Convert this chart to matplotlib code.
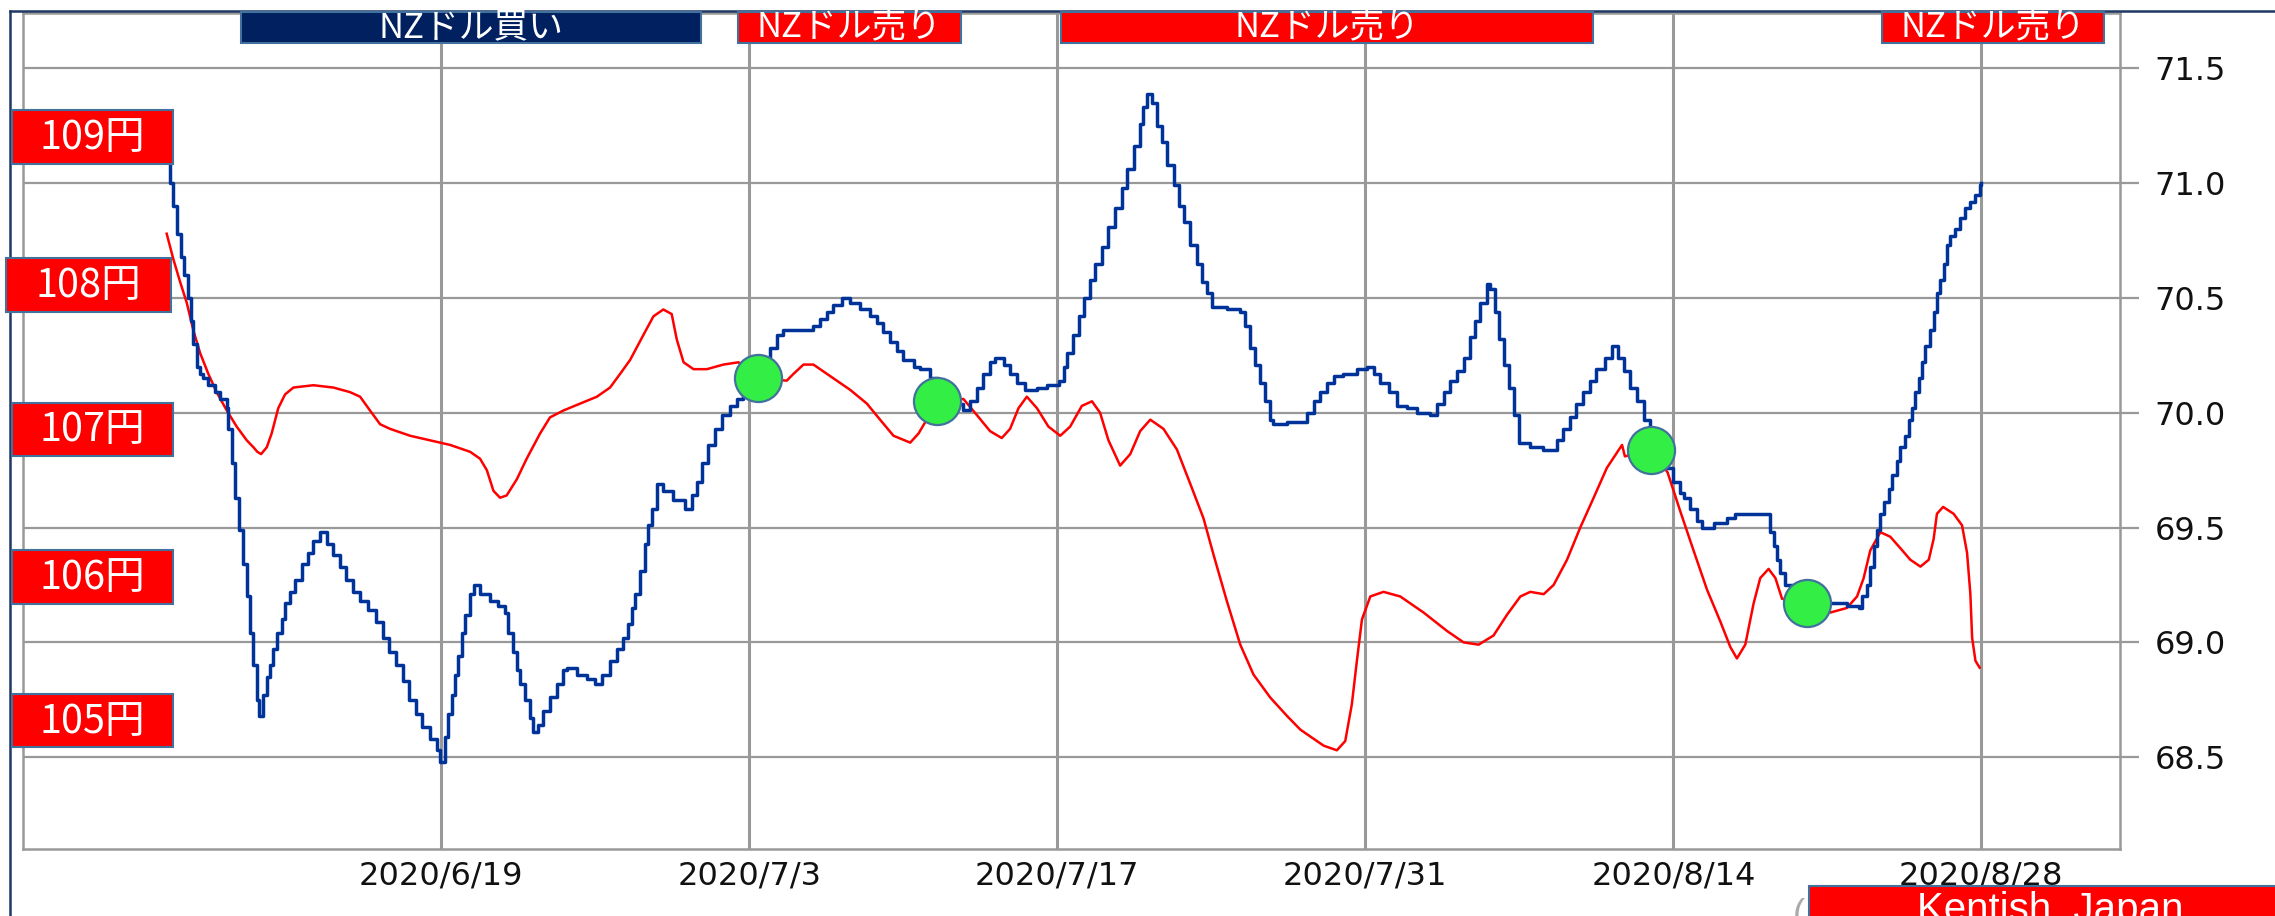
import numpy as np
import pandas as pd
import matplotlib
matplotlib.use("Agg")
import matplotlib.pyplot as plt
from matplotlib.patches import Rectangle

# ---- data (days relative to 2020/6/19) ----
base_date = pd.Timestamp("2020-06-19")

nzd_days = [
    -12.47, -12.32, -12.17, -12.02, -11.83, -11.68, -11.48, -11.37, -11.26, -11.10,
    -10.95, -10.80, -10.58, -10.27, -10.05, -9.74, -9.67, -9.50, -9.36, -9.20,
    -8.98, -8.83, -8.68, -8.53, -8.38, -8.26, -8.08, -7.92, -7.77, -7.62,
    -7.47, -7.24, -7.09, -6.86, -6.64, -6.33, -6.03, -5.80, -5.50, -5.20,
    -4.90, -4.60, -4.30, -4.00, -3.70, -3.30, -2.95, -2.65, -2.35, -2.05,
    -1.74, -1.45, -1.15, -0.85, -0.50, -0.20, -0.05, 0.18, 0.33, 0.48,
    0.64, 0.79, 0.94, 1.10, 1.32, 1.48, 1.77, 2.23, 2.60, 2.90,
    3.05, 3.29, 3.44, 3.59, 3.80, 4.05, 4.20, 4.41, 4.65, 4.95,
    5.26, 5.56, 5.71, 6.17, 6.62, 7.00, 7.30, 7.68, 7.98, 8.29,
    8.51, 8.67, 8.82, 9.04, 9.27, 9.42, 9.58, 9.80, 10.10, 10.56,
    11.10, 11.39, 11.62, 11.85, 12.15, 12.45, 12.76, 13.14, 13.44, 13.74,
    14.05, 14.35, 14.65, 14.95, 15.26, 15.56, 16.17, 16.92, 17.23, 17.53,
    17.83, 18.20, 18.59, 19.04, 19.50, 19.80, 20.10, 20.40, 20.70, 21.00,
    21.47, 21.77, 22.20, 22.60, 23.20, 23.74, 24.05, 24.35, 24.65, 24.95,
    25.18, 25.56, 25.86, 26.17, 26.55, 27.08, 27.53, 28.06, 28.29, 28.44,
    28.74, 28.97, 29.20, 29.50, 29.73, 30.03, 30.33, 30.64, 30.94, 31.17,
    31.47, 31.77, 31.92, 32.10, 32.30, 32.53, 32.76, 32.98, 33.29, 33.52,
    33.74, 34.05, 34.35, 34.58, 34.80, 35.03, 35.71, 36.32, 36.55, 36.77,
    37.00, 37.23, 37.45, 37.68, 37.83, 38.44, 39.12, 39.35, 39.65, 39.95,
    40.26, 40.56, 41.00, 41.62, 42.08, 42.38, 42.68, 43.06, 43.44, 43.89,
    44.35, 44.95, 45.26, 45.56, 45.86, 46.17, 46.47, 46.77, 47.00, 47.23,
    47.53, 47.68, 47.91, 48.06, 48.29, 48.52, 48.74, 48.97, 49.50, 50.10,
    50.41, 50.71, 51.00, 51.30, 51.60, 51.90, 52.20, 52.50, 52.90, 53.20,
    53.50, 53.74, 54.05, 54.35, 54.65, 54.95, 55.30, 55.70, 56.00, 56.30,
    56.47, 56.77, 57.08, 57.30, 57.83, 58.44, 58.82, 60.23, 60.41, 60.56,
    60.71, 60.86, 61.09, 61.47, 61.80, 62.50, 63.29, 63.89, 64.42, 64.58,
    64.80, 64.95, 65.10, 65.26, 65.41, 65.59, 65.79, 65.94, 66.17, 66.32,
    66.55, 66.70, 66.85, 67.00, 67.15, 67.30, 67.45, 67.68, 67.83, 67.98,
    68.14, 68.29, 68.44, 68.59, 68.82, 69.05, 69.27, 69.50, 69.73, 69.95,
    70.00,
]
nzd_vals = [
    71.12, 71.00, 70.90, 70.78, 70.68, 70.60, 70.50, 70.40, 70.30, 70.20,
    70.17, 70.15, 70.12, 70.09, 70.06, 70.02, 69.93, 69.78, 69.63, 69.49,
    69.34, 69.20, 69.04, 68.90, 68.75, 68.68, 68.77, 68.85, 68.90, 68.97,
    69.04, 69.10, 69.17, 69.22, 69.27, 69.34, 69.39, 69.44, 69.48, 69.43,
    69.38, 69.33, 69.27, 69.22, 69.18, 69.14, 69.09, 69.02, 68.96, 68.90,
    68.83, 68.75, 68.69, 68.63, 68.58, 68.53, 68.48, 68.59, 68.69, 68.77,
    68.86, 68.94, 69.04, 69.12, 69.21, 69.25, 69.21, 69.18, 69.16, 69.13,
    69.04, 68.96, 68.88, 68.82, 68.75, 68.67, 68.61, 68.64, 68.70, 68.76,
    68.82, 68.88, 68.89, 68.86, 68.84, 68.82, 68.86, 68.92, 68.97, 69.02,
    69.08, 69.15, 69.21, 69.31, 69.43, 69.51, 69.58, 69.69, 69.66, 69.62,
    69.58, 69.64, 69.70, 69.78, 69.86, 69.93, 69.99, 70.03, 70.06, 70.11,
    70.17, 70.20, 70.24, 70.28, 70.34, 70.36, 70.36, 70.38, 70.41, 70.44,
    70.47, 70.50, 70.48, 70.45, 70.42, 70.39, 70.35, 70.31, 70.27, 70.23,
    70.20, 70.19, 70.15, 70.10, 70.04, 70.01, 70.05, 70.11, 70.17, 70.22,
    70.24, 70.21, 70.17, 70.13, 70.10, 70.11, 70.12, 70.14, 70.20, 70.26,
    70.34, 70.42, 70.50, 70.58, 70.65, 70.72, 70.81, 70.89, 70.98, 71.06,
    71.16, 71.26, 71.33, 71.39, 71.35, 71.25, 71.18, 71.08, 70.99, 70.90,
    70.83, 70.73, 70.65, 70.57, 70.52, 70.46, 70.45, 70.44, 70.38, 70.28,
    70.21, 70.13, 70.05, 69.97, 69.95, 69.96, 69.96, 70.00, 70.05, 70.09,
    70.13, 70.16, 70.17, 70.19, 70.20, 70.17, 70.13, 70.09, 70.03, 70.02,
    70.00, 69.99, 70.04, 70.09, 70.14, 70.18, 70.24, 70.33, 70.40, 70.48,
    70.56, 70.54, 70.44, 70.32, 70.21, 70.11, 69.99, 69.87, 69.85, 69.84,
    69.84, 69.88, 69.93, 69.98, 70.04, 70.09, 70.14, 70.19, 70.24, 70.29,
    70.24, 70.18, 70.11, 70.05, 69.97, 69.89, 69.82, 69.76, 69.70, 69.65,
    69.63, 69.58, 69.53, 69.50, 69.52, 69.54, 69.56, 69.56, 69.48, 69.42,
    69.36, 69.30, 69.25, 69.20, 69.18, 69.17, 69.17, 69.16, 69.15, 69.20,
    69.25, 69.33, 69.42, 69.49, 69.56, 69.61, 69.67, 69.73, 69.79, 69.85,
    69.90, 69.97, 70.02, 70.09, 70.15, 70.22, 70.29, 70.36, 70.44, 70.52,
    70.58, 70.65, 70.73, 70.77, 70.80, 70.85, 70.89, 70.92, 70.95, 70.99,
    71.00,
]

jpy_days = [
    -12.47, -12.17, -11.86, -11.56, -11.26, -10.95, -10.58, -10.20, -9.74, -9.29,
    -8.83, -8.53, -8.35, -8.18, -7.92, -7.70, -7.40, -7.09, -6.71, -5.80,
    -4.90, -4.14, -3.68, -3.23, -2.77, -2.32, -1.41, -0.50, 0.41, 1.32,
    1.77, 2.08, 2.38, 2.68, 2.98, 3.44, 3.89, 4.50, 4.95, 5.56,
    6.32, 7.08, 7.68, 8.14, 8.59, 9.20, 9.65, 10.10, 10.48, 10.71,
    11.02, 11.47, 12.08, 12.83, 13.52, 14.38, 15.71, 16.02, 16.47, 16.92,
    17.68, 18.59, 19.35, 19.95, 20.56, 21.32, 21.70, 22.56, 23.74, 24.35,
    24.95, 25.48, 25.86, 26.24, 26.62, 27.08, 27.60, 28.14, 28.59, 29.12,
    29.58, 29.95, 30.33, 30.86, 31.32, 31.77, 32.23, 32.83, 33.44, 34.05,
    34.65, 35.11, 35.71, 36.32, 36.92, 37.68, 38.44, 39.05, 39.35, 40.11,
    40.71, 41.09, 41.39, 41.62, 41.85, 42.23, 42.83, 43.59, 44.65, 45.71,
    46.47, 47.15, 47.83, 48.44, 49.05, 49.50, 50.11, 50.56, 51.17, 51.77,
    52.38, 52.98, 53.67, 53.80, 54.98, 55.74, 56.32, 56.92, 57.53, 58.14,
    58.59, 58.89, 59.27, 59.65, 59.95, 60.33, 60.64, 60.94, 62.08, 63.14,
    63.89, 64.35, 64.65, 64.95, 65.41, 65.86, 66.32, 66.77, 67.23, 67.61,
    67.83, 67.98, 68.26, 68.74, 69.12, 69.35, 69.50, 69.58, 69.73, 69.92,
]
jpy_vals = [
    70.78, 70.67, 70.57, 70.48, 70.36, 70.26, 70.17, 70.09, 70.01, 69.94,
    69.88, 69.85, 69.83, 69.82, 69.85, 69.91, 70.02, 70.08, 70.11, 70.12,
    70.11, 70.09, 70.07, 70.01, 69.95, 69.93, 69.90, 69.88, 69.86, 69.83,
    69.80, 69.75, 69.66, 69.63, 69.64, 69.71, 69.80, 69.91, 69.98, 70.01,
    70.04, 70.07, 70.11, 70.17, 70.23, 70.34, 70.42, 70.45, 70.43, 70.32,
    70.22, 70.19, 70.19, 70.21, 70.22, 70.15, 70.14, 70.17, 70.21, 70.21,
    70.16, 70.10, 70.04, 69.97, 69.90, 69.87, 69.91, 70.05, 70.06, 69.99,
    69.92, 69.89, 69.93, 70.02, 70.07, 70.02, 69.94, 69.90, 69.94, 70.03,
    70.05, 70.00, 69.88, 69.77, 69.82, 69.92, 69.97, 69.93, 69.84, 69.69,
    69.54, 69.38, 69.18, 68.99, 68.86, 68.76, 68.68, 68.62, 68.60, 68.55,
    68.53, 68.57, 68.73, 68.92, 69.10, 69.20, 69.22, 69.20, 69.13, 69.05,
    69.00, 68.99, 69.03, 69.12, 69.20, 69.22, 69.21, 69.25, 69.36, 69.50,
    69.63, 69.76, 69.86, 69.81, 69.84, 69.74, 69.57, 69.40, 69.23, 69.09,
    68.98, 68.93, 68.99, 69.17, 69.28, 69.32, 69.28, 69.19, 69.17, 69.13,
    69.15, 69.20, 69.28, 69.40, 69.48, 69.46, 69.41, 69.36, 69.33, 69.36,
    69.45, 69.56, 69.59, 69.56, 69.51, 69.39, 69.21, 69.02, 68.92, 68.89,
]

cross_days = [14.38, 22.56, 54.98, 62.08]
cross_vals = [70.15, 70.05, 69.84, 69.17]

tick_dates = ["2020-06-19", "2020-07-03", "2020-07-17", "2020-07-31", "2020-08-14", "2020-08-28"]
tick_labels = ["2020/6/19", "2020/7/3", "2020/7/17", "2020/7/31", "2020/8/14", "2020/8/28"]
y_ticks = [68.5, 69.0, 69.5, 70.0, 70.5, 71.0, 71.5]

signal_labels = ["NZドル買い", "NZドル売り", "NZドル売り", "NZドル売り"]
signal_colors = ["#002060", "#FF0000", "#FF0000", "#FF0000"]
yen_labels = ["109円", "108円", "107円", "106円", "105円"]

# ---- layout (pixels) ----
W, H = 2275, 916
signal_spans = [(241, 701), (738, 961), (1061, 1593), (1882, 2104)]
yen_boxes = [(12, 110, 173, 164), (6, 258, 171, 312), (12, 403, 173, 456),
             (12, 550, 173, 604), (12, 694, 173, 747)]

CJK = ["Noto Sans CJK JP", "DejaVu Sans"]
GRID = "#999999"
EDGE = "#41719C"


def fx(x):
    return x / W


def fy(y):
    return 1 - y / H


def to_dates(days):
    return base_date + pd.to_timedelta(np.asarray(days), unit="D")


fig = plt.figure(figsize=(W / 100, H / 100), dpi=100)
ax = fig.add_axes([fx(23), fy(849), (2120 - 23) / W, (849 - 13.3) / H])

ax.plot(to_dates(jpy_days), jpy_vals, color="#FF0000", lw=1.8, zorder=3)
ax.plot(to_dates(nzd_days), nzd_vals, color="#003399", lw=2.5,
        drawstyle="steps-post", zorder=4)
ax.scatter(to_dates(cross_days), cross_vals, s=1150, c="#33EE44",
           edgecolors=EDGE, linewidths=1.6, zorder=5)

ax.set_xlim(base_date + pd.Timedelta(days=-19.0), base_date + pd.Timedelta(days=76.3))
ax.set_ylim(68.1, 71.74)
ax.set_xticks(pd.to_datetime(tick_dates))
ax.set_xticklabels(tick_labels)
ax.set_yticks(y_ticks)
ax.set_yticklabels([f"{v:.1f}" for v in y_ticks])
ax.yaxis.tick_right()
ax.tick_params(axis="y", length=13.7, width=1.6, color=GRID, pad=11,
               labelsize=23, labelcolor="#111111")
ax.tick_params(axis="x", length=0, pad=8, labelsize=23, labelcolor="#111111")
ax.xaxis.grid(True, color=GRID, lw=2.2)
ax.yaxis.grid(True, color=GRID, lw=1.6)
ax.set_axisbelow(True)
for sp in ax.spines.values():
    sp.set_color(GRID)
    sp.set_linewidth(1.8)

# navy border of the picture
fig.add_artist(plt.Line2D([fx(10), 1], [fy(10.7), fy(10.7)], color="#1F3864", lw=1.8))
fig.add_artist(plt.Line2D([fx(10), fx(10)], [fy(10.7), 0], color="#1F3864", lw=1.8))

# signal banners on top
for (x0, x1), lab, col in zip(signal_spans, signal_labels, signal_colors):
    fig.add_artist(Rectangle((fx(x0), fy(43)), (x1 - x0) / W, 31 / H,
                             facecolor=col, edgecolor=EDGE, lw=1.5,
                             transform=fig.transFigure, zorder=10))
    fig.text(fx((x0 + x1) / 2), fy(28), lab, color="white", fontsize=25,
             family=CJK, ha="center", va="center", zorder=11)

# yen level labels on the left
for (x0, y0, x1, y1), lab in zip(yen_boxes, yen_labels):
    fig.add_artist(Rectangle((fx(x0), fy(y1)), (x1 - x0) / W, (y1 - y0) / H,
                             facecolor="#FF0000", edgecolor=EDGE, lw=1.5,
                             transform=fig.transFigure, zorder=10))
    fig.text(fx((x0 + x1) / 2), fy((y0 + y1) / 2 + 1), lab, color="white",
             fontsize=28.5, family=CJK, ha="center", va="center", zorder=11)

# credit box at the bottom right
fig.add_artist(Rectangle((fx(1809), fy(930)), (2290 - 1809) / W, 44 / H,
                         facecolor="#FF0000", edgecolor=EDGE, lw=1.5,
                         transform=fig.transFigure, zorder=10))
fig.text(fx(2050), fy(921), "Kentish  Japan", color="white", fontsize=29,
         family="Liberation Sans", ha="center", va="baseline", zorder=11)
fig.text(fx(1799), fy(925), "(", color="#AAAAAA", fontsize=26,
         family="Liberation Sans", ha="center", va="baseline", zorder=9)

fig.savefig("out.png", dpi=100)
